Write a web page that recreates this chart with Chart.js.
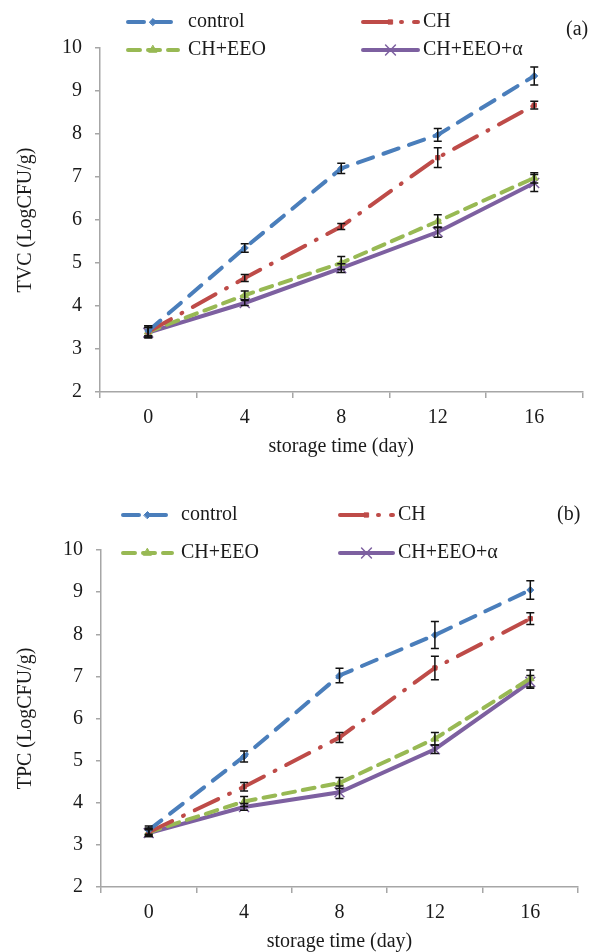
<!DOCTYPE html>
<html>
<head>
<meta charset="utf-8">
<script src="https://cdn.jsdelivr.net/npm/chart.js@4.4.1/dist/chart.umd.min.js"></script>
<style>
  body { margin: 0; background: #fff; }
  canvas { display: block; }
</style>
</head>
<body>
<canvas id="tvc" width="591" height="470"></canvas>
<canvas id="tpc" width="591" height="482"></canvas>
<script>
const days = ['0', '4', '8', '12', '16'];
const seriesNames = ['control', 'CH', 'CH+EEO', 'CH+EEO+\u03b1'];

// (a) total viable count
const tvcControl = [3.42, 5.35, 7.2, 7.98, 9.35];
const tvcCH = [3.4, 4.65, 5.85, 7.45, 8.67];
const tvcEEO = [3.4, 4.25, 5.0, 5.97, 6.98];
const tvcAlpha = [3.38, 4.07, 4.88, 5.72, 6.86];
const tvcControlErr = [0.12, 0.1, 0.12, 0.15, 0.21];
const tvcCHErr = [0.1, 0.08, 0.07, 0.23, 0.09];
const tvcEEOErr = [0.14, 0.1, 0.15, 0.15, 0.12];
const tvcAlphaErr = [0.12, 0.06, 0.1, 0.12, 0.2];

// (b) total psychrotrophic count
const tpcControl = [3.35, 5.1, 7.02, 7.98, 9.05];
const tpcCH = [3.3, 4.38, 5.55, 7.2, 8.37];
const tpcEEO = [3.3, 4.03, 4.47, 5.52, 6.95];
const tpcAlpha = [3.28, 3.9, 4.25, 5.27, 6.87];
const tpcControlErr = [0.1, 0.13, 0.17, 0.32, 0.22];
const tpcCHErr = [0.08, 0.1, 0.12, 0.28, 0.14];
const tpcEEOErr = [0.1, 0.12, 0.13, 0.15, 0.2];
const tpcAlphaErr = [0.08, 0.08, 0.15, 0.1, 0.15];

const yTicks = [2, 3, 4, 5, 6, 7, 8, 9, 10];

const FONT = "'Liberation Serif', 'Times New Roman', serif";
const AXIS_GREY = '#a6a6a6';

const styles = [
  { borderColor: '#4a7ebb', backgroundColor: '#4a7ebb', borderDash: [16, 11], pointStyle: 'rectRot', pointRadius: 3.5 },
  { borderColor: '#be4b48', backgroundColor: '#be4b48', borderDash: [26, 12, 1, 12], pointStyle: 'rect', pointRadius: 3 },
  { borderColor: '#98b954', backgroundColor: '#98b954', borderDash: [12, 8], pointStyle: 'triangle', pointRadius: 4.5 },
  { borderColor: '#7d60a0', backgroundColor: '#7d60a0', borderDash: [], pointStyle: 'crossRot', pointRadius: 7, pointBorderWidth: 1.5 }
];

// black error bars with caps
const errorBars = {
  id: 'errorBars',
  afterDatasetsDraw(chart) {
    const ctx = chart.ctx;
    const y = chart.scales.y;
    chart.data.datasets.forEach((ds, i) => {
      if (!ds.errors) return;
      const meta = chart.getDatasetMeta(i);
      ctx.save();
      ctx.strokeStyle = '#111';
      ctx.lineWidth = 1.5;
      ctx.setLineDash([]);
      meta.data.forEach((pt, j) => {
        const top = y.getPixelForValue(ds.data[j] + ds.errors[j]);
        const bot = y.getPixelForValue(ds.data[j] - ds.errors[j]);
        ctx.beginPath();
        ctx.moveTo(pt.x, top); ctx.lineTo(pt.x, bot);
        ctx.moveTo(pt.x - 4, top); ctx.lineTo(pt.x + 4, top);
        ctx.moveTo(pt.x - 4, bot); ctx.lineTo(pt.x + 4, bot);
        ctx.stroke();
      });
      ctx.restore();
    });
  }
};

// two-column legend drawn in the top padding, plus the (a)/(b) tag
const lineLegend = {
  id: 'lineLegend',
  afterDraw(chart, args, opts) {
    const ctx = chart.ctx;
    ctx.save();
    chart.data.datasets.forEach((ds, i) => {
      const col = opts.cols[i % 2];
      const y = opts.rows[Math.floor(i / 2)];
      ctx.strokeStyle = ds.borderColor;
      ctx.fillStyle = ds.backgroundColor;
      ctx.lineWidth = ds.borderWidth;
      ctx.lineCap = 'round';
      ctx.setLineDash(ds.borderDash || []);
      ctx.beginPath();
      ctx.moveTo(col[0], y);
      ctx.lineTo(col[1], y);
      ctx.stroke();
      ctx.setLineDash([]);
      ctx.lineWidth = ds.pointBorderWidth || 1;
      Chart.helpers.drawPoint(ctx, {
        pointStyle: ds.pointStyle, radius: ds.pointRadius, rotation: 0, borderWidth: ds.pointBorderWidth || 1
      }, (col[0] + col[1]) / 2, y);
      ctx.fillStyle = '#1a1a1a';
      ctx.font = '20px ' + FONT;
      ctx.textBaseline = 'middle';
      ctx.textAlign = 'left';
      ctx.fillText(ds.label, col[2], y);
    });
    ctx.fillStyle = '#1a1a1a';
    ctx.fillText(opts.tag, opts.tagX, opts.tagY);
    ctx.restore();
  }
};

function makeChart(id, values, errors, yTitle, lay) {
  const datasets = values.map((v, i) => Object.assign({
    label: seriesNames[i],
    data: v,
    errors: errors[i],
    borderWidth: 4,
    borderCapStyle: 'round',
    pointBorderWidth: 1,
    fill: false,
    tension: 0
  }, styles[i]));

  return new Chart(document.getElementById(id), {
    type: 'line',
    data: { labels: days, datasets: datasets },
    plugins: [errorBars, lineLegend],
    options: {
      responsive: false,
      animation: false,
      layout: { padding: { top: lay.top, right: lay.right, left: 0, bottom: 0 } },
      plugins: {
        legend: { display: false },
        tooltip: { enabled: false },
        lineLegend: lay.legend
      },
      scales: {
        x: {
          type: 'category',
          offset: true,
          grid: { offset: true, drawOnChartArea: false, drawTicks: true, tickLength: 6, color: AXIS_GREY, lineWidth: 1.5 },
          border: { color: AXIS_GREY, width: 1.5 },
          ticks: { padding: 8, color: '#1a1a1a', font: { family: FONT, size: 20 } },
          title: { display: true, text: 'storage time (day)', color: '#1a1a1a', padding: { top: 0, bottom: lay.xTitlePad }, font: { family: FONT, size: 20, lineHeight: 1 } },
          afterFit: (s) => { s.height = lay.xHeight; }
        },
        y: {
          min: 2,
          max: 10,
          afterBuildTicks: (s) => { s.ticks = yTicks.map(v => ({ value: v })); },
          grid: { drawOnChartArea: false, drawTicks: true, tickLength: 5, color: AXIS_GREY, lineWidth: 1.5 },
          border: { color: AXIS_GREY, width: 1.5 },
          ticks: { padding: 13, color: '#1a1a1a', font: { family: FONT, size: 20 } },
          title: { display: true, text: yTitle, color: '#1a1a1a', padding: { top: 14, bottom: 0 }, font: { family: FONT, size: 20 } },
          afterFit: (s) => { s.width = lay.yWidth; }
        }
      }
    }
  });
}

makeChart('tvc',
  [tvcControl, tvcCH, tvcEEO, tvcAlpha],
  [tvcControlErr, tvcCHErr, tvcEEOErr, tvcAlphaErr],
  'TVC (LogCFU/g)',
  {
    top: 48, right: 3, xHeight: 78, yWidth: 100, xTitlePad: 13,
    legend: { cols: [[128, 178, 188], [363, 418, 423]], rows: [22, 50], tag: '(a)', tagX: 566, tagY: 30 }
  });

makeChart('tpc',
  [tpcControl, tpcCH, tpcEEO, tpcAlpha],
  [tpcControlErr, tpcCHErr, tpcEEOErr, tpcAlphaErr],
  'TPC (LogCFU/g)',
  {
    top: 80, right: 13, xHeight: 65, yWidth: 101, xTitlePad: 0,
    legend: { cols: [[123, 172, 181], [340, 393, 398]], rows: [45, 83], tag: '(b)', tagX: 557, tagY: 45 }
  });
</script>
</body>
</html>
